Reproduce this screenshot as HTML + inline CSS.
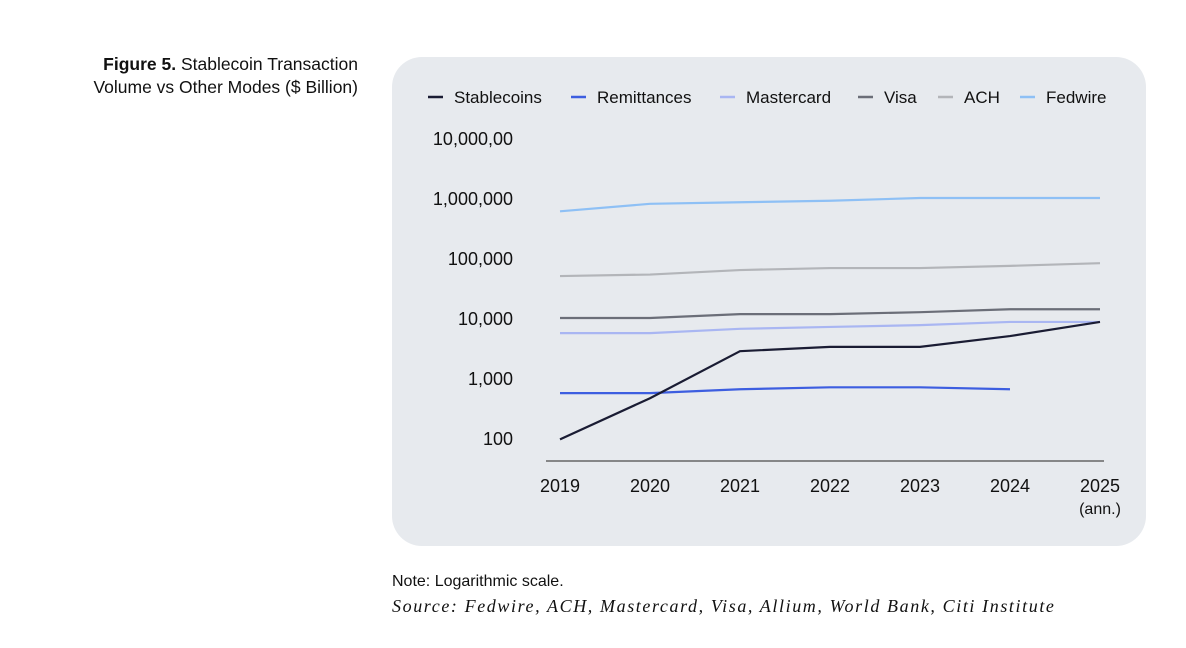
<!DOCTYPE html>
<html><head><meta charset="utf-8"><style>
body{margin:0;width:1186px;height:648px;background:#fff;font-family:"Liberation Sans",sans-serif;position:relative;overflow:hidden}
#title{position:absolute;right:828px;top:53px;text-align:right;font-size:17.5px;line-height:23px;color:#111}
#panel{position:absolute;left:392px;top:57px;width:754px;height:489px;background:#e7eaee;border-radius:30px}
svg{position:absolute;left:0;top:0}
#note{position:absolute;left:392px;top:573px;font-size:16px;color:#111}
#src{position:absolute;left:392px;top:596px;font-size:18px;letter-spacing:1.6px;font-style:italic;font-family:"Liberation Serif",serif;color:#111}
</style></head><body>
<div id="title"><b>Figure 5.</b> Stablecoin Transaction<br>Volume vs Other Modes ($ Billion)</div>
<div id="panel"></div>
<svg id="chart" width="1186" height="648"></svg>
<div id="note">Note: Logarithmic scale.</div>
<div id="src">Source: Fedwire, ACH, Mastercard, Visa, Allium, World Bank, Citi Institute</div>
<script>
const years=["2019","2020","2021","2022","2023","2024","2025"];
const tickVals=[100,1000,10000,100000,1000000,10000000];
const tickLabels=["100","1,000","10,000","100,000","1,000,000","10,000,00"];
const seriesNames=["Stablecoins","Remittances","Mastercard","Visa","ACH","Fedwire"];
const seriesColors=["#1a1c33","#3d5ee0","#a9b6f2","#6b6e78","#b3b5b9","#8ec0f5"];
const stablecoins=[95,460,2800,3300,3300,5000,8600];
const remittances=[560,560,650,700,700,650,null];
const mastercard=[5600,5600,6600,7100,7600,8600,8600];
const visa=[10000,10000,11600,11600,12500,14000,14000];
const ach=[50000,53000,63000,68000,68000,74000,82000];
const fedwire=[600000,800000,850000,900000,1000000,1000000,1000000];
const allSeries=[stablecoins,remittances,mastercard,visa,ach,fedwire];
const svg=document.getElementById('chart');const NS="http://www.w3.org/2000/svg";
const x=i=>560+i*90;
const y=v=>438-60*Math.log10(v/100);
function mk(t,a){const e=document.createElementNS(NS,t);for(const k in a)e.setAttribute(k,a[k]);svg.appendChild(e);return e;}
tickVals.forEach((v,i)=>{const t=mk('text',{x:513,y:y(v)+7,'text-anchor':'end','font-size':18,fill:'#111','font-family':'Liberation Sans'});t.textContent=tickLabels[i];

});
const ax=mk('line',{x1:546,x2:1104,y1:461,y2:461,stroke:'#666','stroke-width':1.5});


years.forEach((yr,i)=>{const t=mk('text',{x:x(i),y:492,'text-anchor':'middle','font-size':18,fill:'#111','font-family':'Liberation Sans'});t.textContent=yr;

});
const ann=mk('text',{x:x(6),y:514,'text-anchor':'middle','font-size':16,fill:'#111','font-family':'Liberation Sans'});ann.textContent="(ann.)";


[5,4,3,2,1,0].forEach(s=>{const d=allSeries[s];let p="";d.forEach((v,i)=>{if(v!=null)p+=(p?"L":"M")+x(i)+","+y(v);});
const l=mk('path',{d:p,fill:'none',stroke:seriesColors[s],'stroke-width':2.2});

});
const lx=[428,571,720,858,938,1020];
seriesNames.forEach((n,i)=>{const g=document.createElementNS(NS,'g');svg.appendChild(g);


const ln=document.createElementNS(NS,'line');[['x1',lx[i]],['x2',lx[i]+15],['y1',97],['y2',97],['stroke',seriesColors[i]],['stroke-width',2.5]].forEach(a=>ln.setAttribute(a[0],a[1]));g.appendChild(ln);
const t=document.createElementNS(NS,'text');[['x',lx[i]+26],['y',103],['font-size',17],['fill','#111'],['font-family','Liberation Sans']].forEach(a=>t.setAttribute(a[0],a[1]));t.textContent=n;g.appendChild(t);});
</script>
</body></html>
